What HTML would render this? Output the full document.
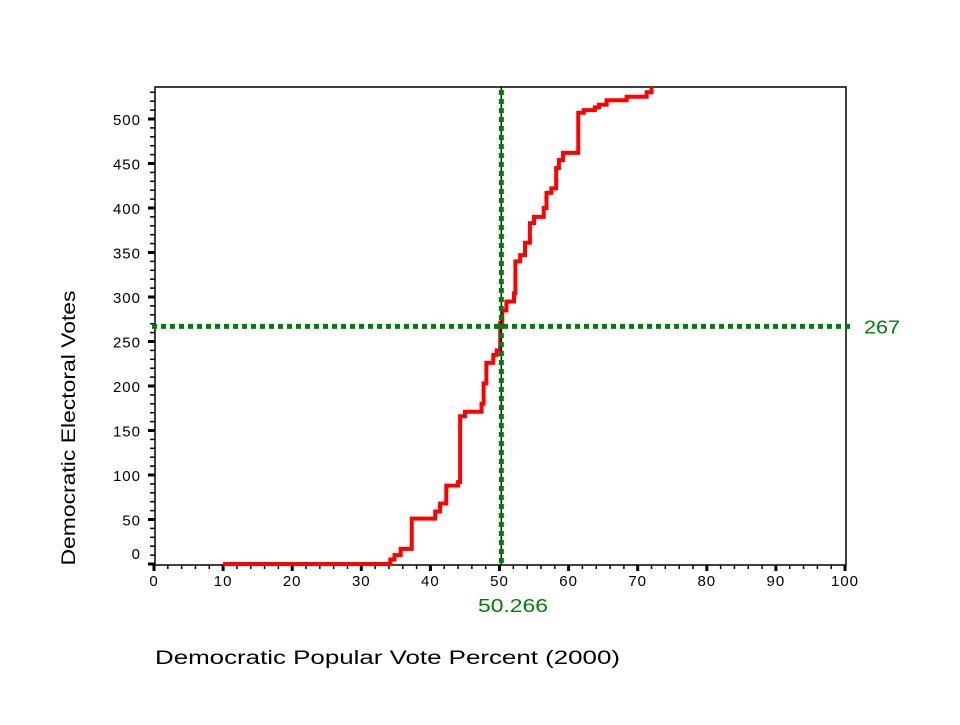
<!DOCTYPE html>
<html><head><meta charset="utf-8"><style>
body{margin:0;background:#fff;}
svg text{font-family:"Liberation Sans",Arial,sans-serif;}
</style></head><body>
<svg width="960" height="720" viewBox="0 0 960 720" id="chart">
<rect width="960" height="720" fill="#fff"/>
<g id="ticks"></g>
<rect x="155" y="87" width="691" height="478" fill="none" stroke="#000" stroke-width="1.5"/>
<polyline id="curve" fill="none" stroke="#ff0000" stroke-width="4"/>
<g id="refs"></g>
<text x="75" y="428" font-size="19" text-anchor="middle" textLength="275" lengthAdjust="spacingAndGlyphs" transform="rotate(-90 75 428)">Democratic Electoral Votes</text>
<text x="155" y="664" font-size="19" textLength="465" lengthAdjust="spacingAndGlyphs">Democratic Popular Vote Percent  (2000)</text>
</svg>
<script>
const xs=[10,34.2,34.8,35.7,37.3,40.7,41.4,42.3,44.0,44.3,45.0,47.4,47.7,48.1,49.1,49.6,50.1,50.4,51.0,52.1,52.3,53.0,53.7,54.4,55.0,56.4,56.8,57.5,58.2,58.6,59.2,61.4,62.2,63.8,64.4,65.5,68.4,71.3,72.0];
const votes=[0,5,10,17,51,59,68,88,92,166,171,180,203,226,235,240,271,285,295,304,340,347,361,383,390,400,417,422,445,454,462,507,510,513,516,521,525,530,536];
const xTicks=[0,10,20,30,40,50,60,70,80,90,100];
const yTicks=[0,50,100,150,200,250,300,350,400,450,500];
const refX=50.266, refY=267;
const NS="http://www.w3.org/2000/svg";
const X=v=>154+v*6.91, Y=v=>564-v*0.89;
const tg=document.getElementById('ticks');
function mk(tag,attrs,parent){const e=document.createElementNS(NS,tag);for(const k in attrs)e.setAttribute(k,attrs[k]);parent.appendChild(e);return e;}
for(let v=0;v<=100;v+=2){const major=v%10===0;
 const t=mk('line',{x1:X(v),x2:X(v),y1:565,y2:major?571:569,stroke:'#000','stroke-width':major?3:1.5},tg);
 
 }
for(let v=0;v<=530;v+=10){const major=v%50===0;
 const t=mk('line',{x1:major?148:150,x2:155,y1:Y(v),y2:Y(v),stroke:'#000','stroke-width':major?3:1.5},tg);
 
 }
xTicks.forEach(v=>{const t=mk('text',{x:X(v),y:586,'font-size':15,'letter-spacing':1,'text-anchor':'middle'},tg);t.textContent=v;
 
 });
yTicks.forEach(v=>{const t=mk('text',{x:141,y:v===0?Y(v)-5:Y(v)+6,'font-size':15,'letter-spacing':1,'text-anchor':'end'},tg);t.textContent=v;
 
 });
let pts=[];
for(let i=0;i<xs.length;i++){if(i>0)pts.push(X(xs[i])+','+Y(votes[i-1]));pts.push(X(xs[i])+','+Y(votes[i]));}
document.getElementById('curve').setAttribute('points',pts.join(' '));
const rg=document.getElementById('refs');
const vb=mk('line',{x1:X(refX),x2:X(refX),y1:87,y2:565,stroke:'#000','stroke-width':1.5},rg);


const vl=mk('line',{x1:X(refX),x2:X(refX),y1:90,y2:565,stroke:'#008000','stroke-width':5,'stroke-dasharray':'5 4'},rg);


const hl=mk('line',{x1:152,x2:850,y1:Y(refY),y2:Y(refY),stroke:'#008000','stroke-width':5,'stroke-dasharray':'5 4'},rg);


const hlab=mk('text',{x:864,y:Y(refY)+7,'font-size':18,fill:'#008000',textLength:36,lengthAdjust:'spacingAndGlyphs'},rg);hlab.textContent=refY;


const vlab=mk('text',{x:478,y:612,'font-size':18,fill:'#008000',textLength:70,lengthAdjust:'spacingAndGlyphs'},rg);vlab.textContent=refX;


</script>
</body></html>
